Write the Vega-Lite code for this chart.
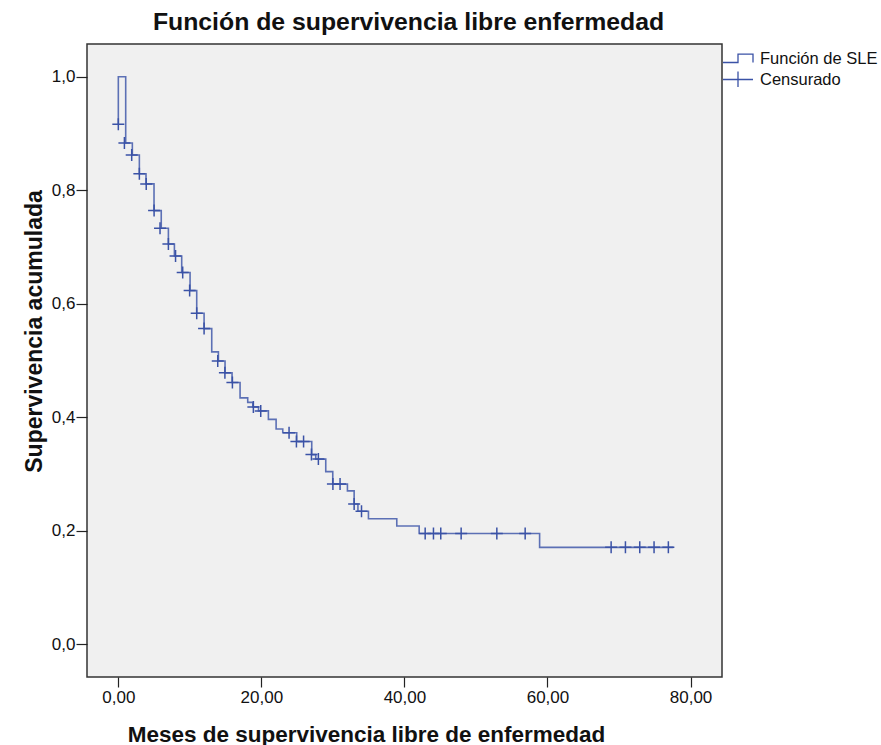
{
  "$schema": "https://vega.github.io/schema/vega-lite/v6.json",
  "width": 635,
  "height": 633,
  "autosize": "none",
  "padding": {"left": 87, "top": 44, "right": 159, "bottom": 68},
  "background": "white",
  "title": {
    "text": "Función de supervivencia libre enfermedad",
    "anchor": "middle",
    "font": "Liberation Sans",
    "fontSize": 24.8,
    "fontWeight": "bold",
    "color": "#111111",
    "offset": 9,
    "dx": 4
  },
  "config": {
    "view": {"stroke": "#333333", "strokeWidth": 1.5, "fill": "#f0f0f0"},
    "axis": {
      "domain": false,
      "grid": false,
      "tickColor": "#222222",
      "tickWidth": 1.2,
      "labelFont": "Liberation Sans",
      "labelFontSize": 17,
      "labelColor": "#111111",
      "titleFont": "Liberation Sans",
      "titleFontSize": 22.5,
      "titleFontWeight": "bold",
      "titleColor": "#111111"
    }
  },
  "datasets": {
    "curve": [
      {"i": 0, "t": 0, "S": 0.916},
      {"i": 1, "t": 0, "S": 1.0},
      {"i": 2, "t": 1.03, "S": 0.883},
      {"i": 3, "t": 1.96, "S": 0.862},
      {"i": 4, "t": 2.94, "S": 0.829},
      {"i": 5, "t": 3.87, "S": 0.811},
      {"i": 6, "t": 4.99, "S": 0.764},
      {"i": 7, "t": 6.0, "S": 0.733},
      {"i": 8, "t": 7.0, "S": 0.705},
      {"i": 9, "t": 7.84, "S": 0.684},
      {"i": 10, "t": 8.86, "S": 0.655},
      {"i": 11, "t": 10.03, "S": 0.623},
      {"i": 12, "t": 10.96, "S": 0.583},
      {"i": 13, "t": 11.99, "S": 0.556},
      {"i": 14, "t": 13.06, "S": 0.515},
      {"i": 15, "t": 13.99, "S": 0.499},
      {"i": 16, "t": 14.92, "S": 0.478},
      {"i": 17, "t": 15.9, "S": 0.461},
      {"i": 18, "t": 17.02, "S": 0.434},
      {"i": 19, "t": 18.09, "S": 0.426},
      {"i": 20, "t": 18.8, "S": 0.418},
      {"i": 21, "t": 19.6, "S": 0.411},
      {"i": 22, "t": 20.98, "S": 0.396},
      {"i": 23, "t": 22.06, "S": 0.379},
      {"i": 24, "t": 22.99, "S": 0.3725},
      {"i": 25, "t": 24.94, "S": 0.357},
      {"i": 26, "t": 27.04, "S": 0.334},
      {"i": 27, "t": 27.6, "S": 0.326},
      {"i": 28, "t": 29.0, "S": 0.304},
      {"i": 29, "t": 29.98, "S": 0.282},
      {"i": 30, "t": 32.03, "S": 0.27},
      {"i": 31, "t": 32.97, "S": 0.247},
      {"i": 32, "t": 33.5, "S": 0.234},
      {"i": 33, "t": 34.97, "S": 0.221},
      {"i": 34, "t": 38.93, "S": 0.208},
      {"i": 35, "t": 42.06, "S": 0.195},
      {"i": 36, "t": 58.9, "S": 0.1705},
      {"i": 37, "t": 77.6, "S": 0.1705}
    ],
    "cens": [
      {"t": 0, "S": 0.916},
      {"t": 0.85, "S": 0.883},
      {"t": 1.87, "S": 0.862},
      {"t": 2.94, "S": 0.829},
      {"t": 3.9, "S": 0.811},
      {"t": 5.0, "S": 0.764},
      {"t": 5.83, "S": 0.733},
      {"t": 7.0, "S": 0.705},
      {"t": 8.0, "S": 0.684},
      {"t": 9.0, "S": 0.655},
      {"t": 9.97, "S": 0.623},
      {"t": 10.96, "S": 0.583},
      {"t": 11.99, "S": 0.556},
      {"t": 13.9, "S": 0.499},
      {"t": 14.9, "S": 0.478},
      {"t": 15.95, "S": 0.461},
      {"t": 18.88, "S": 0.418},
      {"t": 19.91, "S": 0.411},
      {"t": 23.87, "S": 0.3725},
      {"t": 24.9, "S": 0.357},
      {"t": 25.9, "S": 0.357},
      {"t": 27.0, "S": 0.334},
      {"t": 27.97, "S": 0.326},
      {"t": 30.0, "S": 0.282},
      {"t": 31.0, "S": 0.282},
      {"t": 32.97, "S": 0.247},
      {"t": 34.0, "S": 0.234},
      {"t": 42.9, "S": 0.195},
      {"t": 44.06, "S": 0.195},
      {"t": 45.08, "S": 0.195},
      {"t": 47.93, "S": 0.195},
      {"t": 52.92, "S": 0.195},
      {"t": 56.88, "S": 0.195},
      {"t": 68.9, "S": 0.1705},
      {"t": 70.9, "S": 0.1705},
      {"t": 72.9, "S": 0.1705},
      {"t": 74.9, "S": 0.1705},
      {"t": 76.9, "S": 0.1705}
    ],
    "leyenda": [
      {"t": -100, "S": -100, "serie": "Función de SLE"},
      {"t": -100, "S": -100, "serie": "Censurado"}
    ]
  },
  "encoding": {
    "x": {
      "field": "t",
      "type": "quantitative",
      "scale": {"domain": [-4.38, 84.4], "nice": false, "zero": false},
      "axis": {
        "values": [0, 20, 40, 60, 80],
        "labelExpr": "replace(format(datum.value, '.2f'), '.', ',')",
        "tickSize": 10,
        "labelPadding": 2,
        "title": "Meses de supervivencia libre de enfermedad",
        "titleX": 279,
        "titleY": 64,
        "titleAlign": "center",
        "titleBaseline": "alphabetic"
      }
    },
    "y": {
      "field": "S",
      "type": "quantitative",
      "scale": {"domain": [-0.058, 1.0576], "nice": false, "zero": false},
      "axis": {
        "values": [0, 0.2, 0.4, 0.6, 0.8, 1.0],
        "labelExpr": "replace(format(datum.value, '.1f'), '.', ',')",
        "tickSize": 11,
        "labelPadding": 1,
        "title": "Supervivencia acumulada",
        "titleFontSize": 23,
        "titleX": -46,
        "titleY": 287,
        "titleAlign": "center",
        "titleAngle": 270,
        "titleBaseline": "alphabetic"
      }
    }
  },
  "layer": [
    {
      "data": {"name": "curve"},
      "mark": {"type": "line", "interpolate": "step-after", "color": "#4259aa", "strokeWidth": 1.6, "strokeOpacity": 0.85},
      "encoding": {"order": {"field": "i", "type": "quantitative"}}
    },
    {
      "data": {"name": "cens"},
      "mark": {"type": "point", "filled": false, "shape": "M-1,0H1M0,-1V1", "color": "#3a52a6", "strokeWidth": 1.5, "size": 144, "opacity": 1}
    },
    {
      "data": {"name": "leyenda"},
      "mark": {"type": "point", "filled": false, "clip": true, "color": "#3a52a6", "strokeWidth": 1.3, "size": 400, "opacity": 1},
      "encoding": {
        "shape": {
          "field": "serie",
          "type": "nominal",
          "scale": {
            "domain": ["Función de SLE", "Censurado"],
            "range": ["M-1.5,0.4H0V-0.43H1.5V0.4", "M-1.5,0H1.5M0,-0.8V0.75"]
          },
          "legend": {
            "title": null,
            "orient": "none",
            "legendX": 640,
            "legendY": 3.5,
            "direction": "vertical",
            "padding": 0,
            "offset": 0,
            "rowPadding": 1,
            "labelOffset": 11,
            "symbolSize": 400,
            "symbolStrokeWidth": 1.3,
            "symbolStrokeColor": "#3a52a6",
            "symbolFillColor": "transparent",
            "labelFont": "Liberation Sans",
            "labelFontSize": 16.5,
            "labelColor": "#111111"
          }
        }
      }
    }
  ]
}
